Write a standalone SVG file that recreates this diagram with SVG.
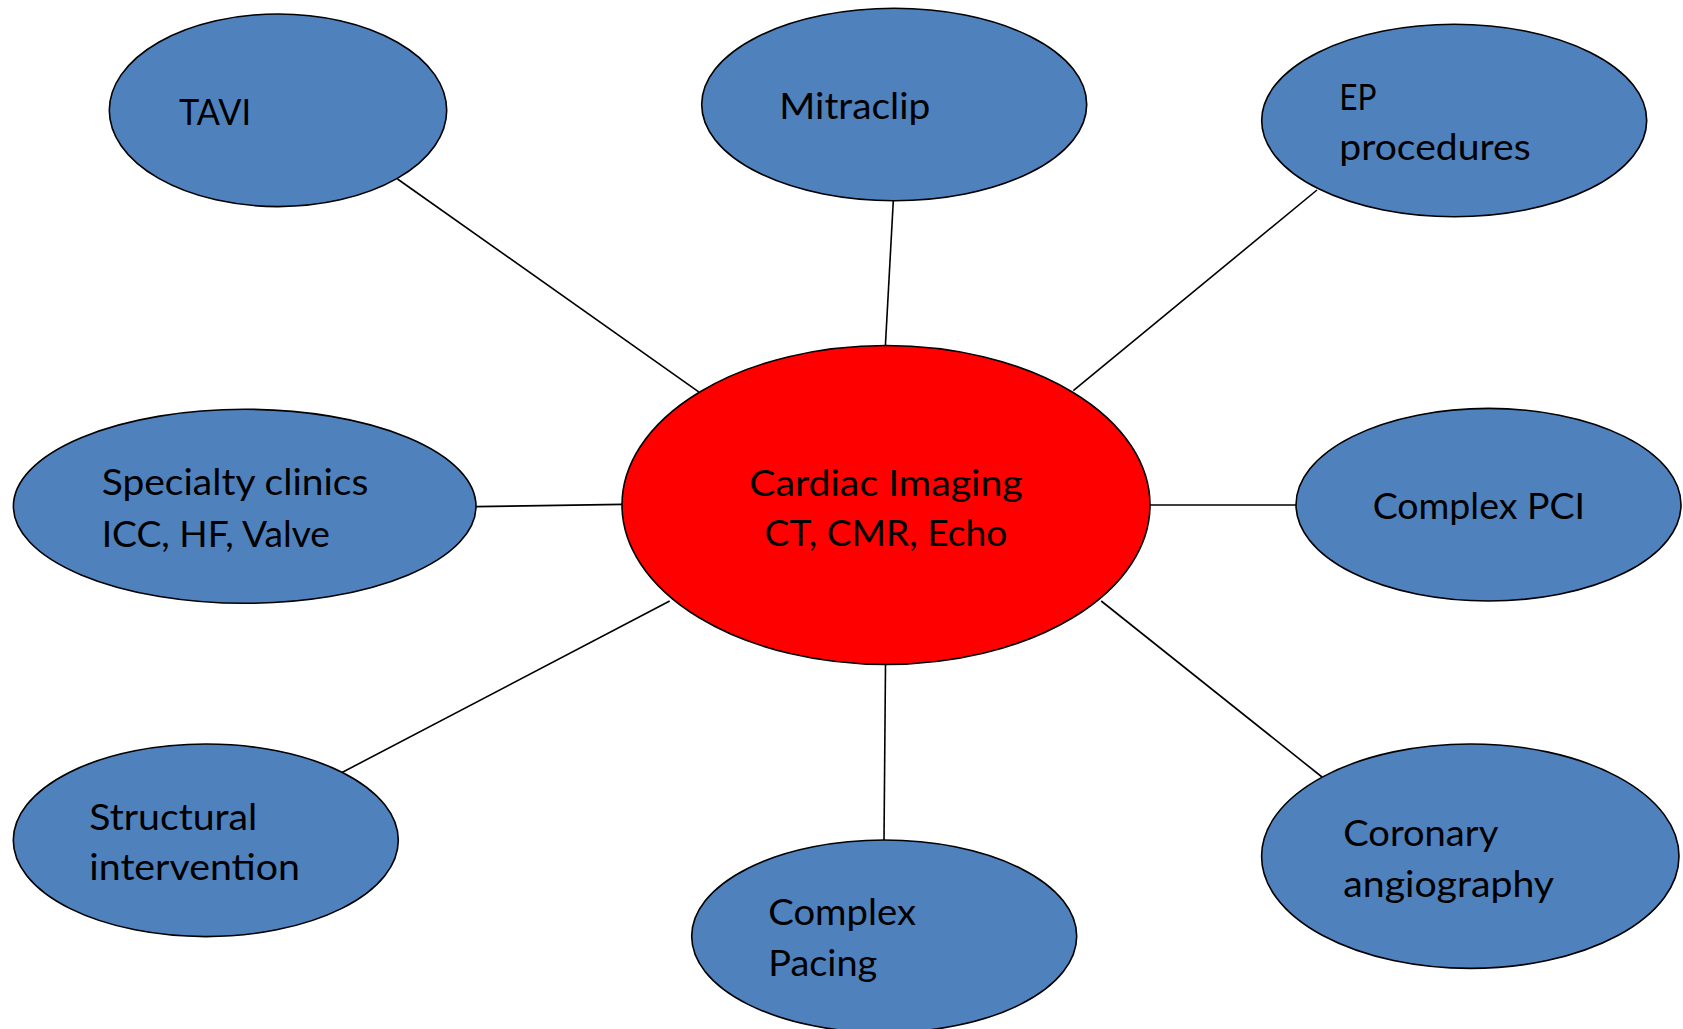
<svg xmlns="http://www.w3.org/2000/svg" width="1683" height="1029" viewBox="0 0 1683 1029">
<style>
.n{fill:#4F81BD;stroke:#000;stroke-width:1.6}
.c{fill:#FF0000;stroke:#000;stroke-width:1.6}
.t{font-family:Lato,"Open Sans","Liberation Sans",sans-serif;font-size:37.5px;fill:#000}
.e{stroke:#000;stroke-width:1.6;fill:none}
</style>
<rect width="1683" height="1029" fill="#fff"/>
<g id="connectors">
<line class="e" x1="397.5" y1="179" x2="698.7" y2="391.8"/>
<line class="e" x1="893.3" y1="200.7" x2="885.4" y2="345.6"/>
<line class="e" x1="1317" y1="190" x2="1073.3" y2="390.7"/>
<line class="e" x1="475.5" y1="506.6" x2="622.5" y2="504.4"/>
<line class="e" x1="1149.5" y1="505" x2="1296.5" y2="505"/>
<line class="e" x1="342" y1="772.5" x2="669.7" y2="601"/>
<line class="e" x1="885.5" y1="665" x2="884" y2="840.4"/>
<line class="e" x1="1322" y1="777" x2="1101.2" y2="601"/>
</g>
<g id="tavi">
<ellipse class="n" cx="278" cy="110.3" rx="168.7" ry="96.3"/>
<text class="t" x="179" y="125" textLength="72" lengthAdjust="spacingAndGlyphs">TAVI</text>
</g>
<g id="mitraclip">
<ellipse class="n" cx="894.2" cy="104.5" rx="192.5" ry="96.2"/>
<text class="t" x="779.3" y="119.3" textLength="151" lengthAdjust="spacingAndGlyphs">Mitraclip</text>
</g>
<g id="ep">
<ellipse class="n" cx="1454.2" cy="120.5" rx="192.5" ry="96.2"/>
<text class="t" x="1339.3" y="110" textLength="37.3" lengthAdjust="spacingAndGlyphs">EP</text>
<text class="t" x="1339.3" y="160" textLength="191.3" lengthAdjust="spacingAndGlyphs">procedures</text>
</g>
<g id="specialty">
<ellipse class="n" cx="244.7" cy="506.3" rx="231.3" ry="97"/>
<text class="t" x="101.7" y="495" textLength="266.7" lengthAdjust="spacingAndGlyphs">Specialty clinics</text>
<text class="t" x="101.7" y="546.5" textLength="228.3" lengthAdjust="spacingAndGlyphs">ICC, HF, Valve</text>
</g>
<g id="center">
<ellipse class="c" cx="886" cy="505" rx="264" ry="159.5"/>
<text class="t" x="886" y="496" text-anchor="middle" textLength="273.5" lengthAdjust="spacingAndGlyphs">Cardiac Imaging</text>
<text class="t" x="886" y="546" text-anchor="middle" textLength="242.8" lengthAdjust="spacingAndGlyphs">CT, CMR, Echo</text>
</g>
<g id="complex-pci">
<ellipse class="n" cx="1488.5" cy="504.7" rx="192.5" ry="96.3"/>
<text class="t" x="1372.7" y="519.3" textLength="212.3" lengthAdjust="spacingAndGlyphs">Complex PCI</text>
</g>
<g id="structural">
<ellipse class="n" cx="205.8" cy="840.3" rx="192.5" ry="96.3"/>
<text class="t" x="89.3" y="830" textLength="168" lengthAdjust="spacingAndGlyphs">Structural</text>
<text class="t" x="89.3" y="880" textLength="210.7" lengthAdjust="spacingAndGlyphs">intervention</text>
</g>
<g id="complex-pacing">
<ellipse class="n" cx="884.2" cy="936.3" rx="192.5" ry="96.3"/>
<text class="t" x="768.3" y="925" textLength="147.7" lengthAdjust="spacingAndGlyphs">Complex</text>
<text class="t" x="768.3" y="976" textLength="109" lengthAdjust="spacingAndGlyphs">Pacing</text>
</g>
<g id="coronary">
<ellipse class="n" cx="1470.3" cy="856.2" rx="208.7" ry="112.2"/>
<text class="t" x="1343.3" y="846" textLength="155" lengthAdjust="spacingAndGlyphs">Coronary</text>
<text class="t" x="1343.3" y="896.7" textLength="210.7" lengthAdjust="spacingAndGlyphs">angiography</text>
</g>
</svg>
